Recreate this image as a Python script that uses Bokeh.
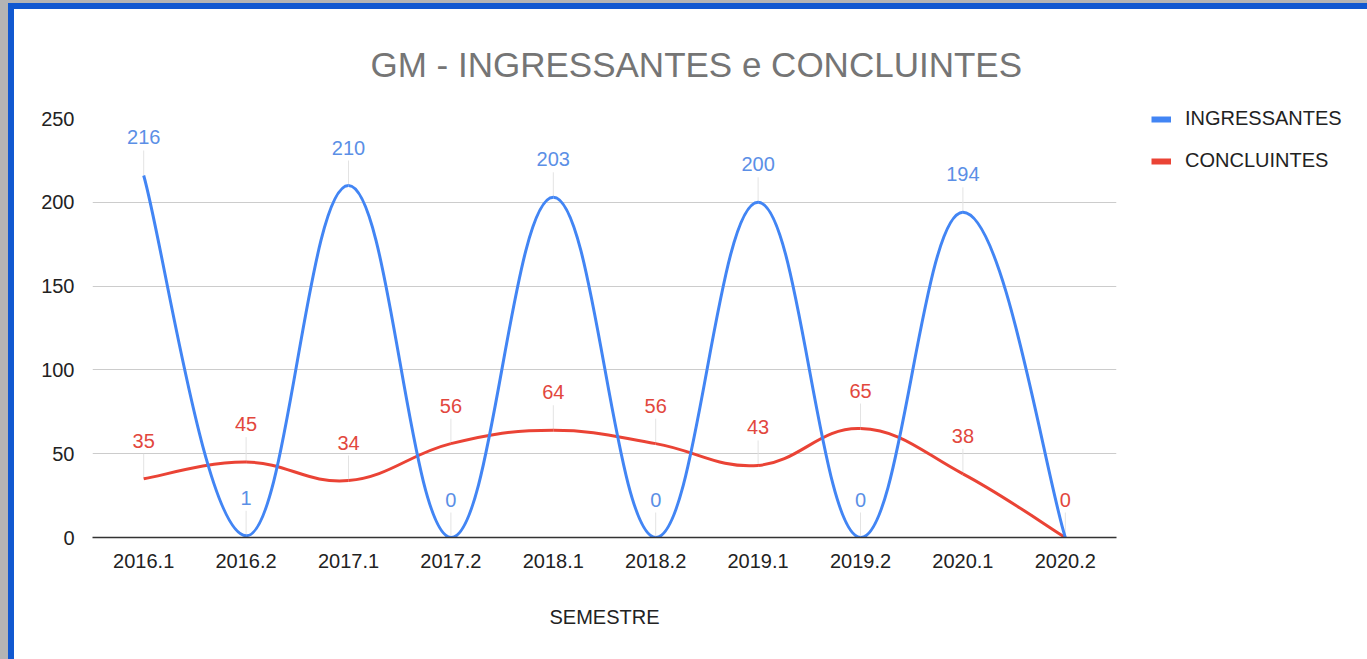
import numpy as np
from bokeh.plotting import figure
from bokeh.layouts import row
from bokeh.models import Range1d, FixedTicker, Legend, LegendItem, ColumnDataSource, Title
from bokeh.core.properties import value
from bokeh.embed import file_html
from bokeh.resources import INLINE

# ---- data ----
semesters = ["2016.1", "2016.2", "2017.1", "2017.2", "2018.1",
             "2018.2", "2019.1", "2019.2", "2020.1", "2020.2"]
ingressantes = [216, 1, 210, 0, 203, 0, 200, 0, 194, 0]
concluintes = [35, 45, 34, 56, 64, 56, 43, 65, 38, 0]
ingressantes_labels = ["216", "1", "210", "0", "203", "0", "200", "0", "194", ""]
concluintes_labels = ["35", "45", "34", "56", "64", "56", "43", "65", "38", "0"]
series_names = ["INGRESSANTES", "CONCLUINTES"]
y_ticks = [0, 50, 100, 150, 200, 250]
title_text = "GM - INGRESSANTES e CONCLUINTES"
x_title = "SEMESTRE"

FONT = "Liberation Sans"
BLUE = "#4285f4"
RED = "#ea4335"
BLUE_TXT = "#5b8fe6"
RED_TXT = "#e2473d"

W, H = 1126, 659
p = figure(width=W, height=H, output_backend="svg", toolbar_location=None,
           x_range=Range1d(0, len(semesters)), y_range=Range1d(0, 250),
           min_border_left=92, min_border_right=W - 1116, min_border_top=118,
           min_border_bottom=122, title=None)
p.outline_line_color = None
p.background_fill_color = None
p.border_fill_color = None

xs = np.arange(len(semesters)) + 0.5


def spline(xv, yv, t=0.2):
    n = len(xv)
    P = list(zip(xv, yv))
    d = dict(x0=[], y0=[], x1=[], y1=[], cx0=[], cy0=[], cx1=[], cy1=[])
    for i in range(n - 1):
        pm = P[i - 1] if i > 0 else P[i]
        p0 = P[i]
        p1 = P[i + 1]
        p2 = P[i + 2] if i + 2 < n else P[i + 1]
        d["x0"].append(p0[0]); d["y0"].append(p0[1])
        d["x1"].append(p1[0]); d["y1"].append(p1[1])
        d["cx0"].append(p0[0] + (p1[0] - pm[0]) * t)
        d["cy0"].append(p0[1] + (p1[1] - pm[1]) * t)
        d["cx1"].append(p1[0] - (p2[0] - p0[0]) * t)
        d["cy1"].append(p1[1] - (p2[1] - p0[1]) * t)
    return ColumnDataSource(d)


# grid / axes
p.ygrid.ticker = FixedTicker(ticks=y_ticks)
p.ygrid.grid_line_color = "#cccccc"
p.ygrid.grid_line_width = 1
p.xgrid.grid_line_color = None

p.yaxis.ticker = FixedTicker(ticks=y_ticks)
p.yaxis.axis_line_color = None
p.yaxis.major_tick_line_color = None
p.yaxis.minor_tick_line_color = None
p.yaxis.major_label_text_font = FONT
p.yaxis.major_label_text_font_size = "20px"
p.yaxis.major_label_text_color = "#222222"
p.yaxis.major_label_standoff = 12

p.xaxis.ticker = FixedTicker(ticks=list(xs))
p.xaxis.major_label_overrides = {float(x): s for x, s in zip(xs, semesters)}
p.xaxis.axis_line_color = "#333333"
p.xaxis.axis_line_width = 1.5
p.xaxis.major_tick_line_color = None
p.xaxis.minor_tick_line_color = None
p.xaxis.major_label_text_font = FONT
p.xaxis.major_label_text_font_size = "20px"
p.xaxis.major_label_text_color = "#222222"
p.xaxis.major_label_standoff = 10
p.xaxis.axis_label = x_title
p.xaxis.axis_label_text_font = FONT
p.xaxis.axis_label_text_font_size = "20px"
p.xaxis.axis_label_text_font_style = "normal"
p.xaxis.axis_label_text_color = "#222222"
p.xaxis.axis_label_standoff = 35

# leader lines
p.ray(x=xs, y=concluintes, length=25, angle=np.pi / 2, length_units="screen",
      line_color="#e3e3e3", line_width=1)
p.ray(x=xs[:-1], y=ingressantes[:-1], length=25, angle=np.pi / 2, length_units="screen",
      line_color="#e3e3e3", line_width=1)

# curves
p.bezier(x0="x0", y0="y0", x1="x1", y1="y1", cx0="cx0", cy0="cy0", cx1="cx1", cy1="cy1",
         source=spline(xs, concluintes), line_color=RED, line_width=3)
p.bezier(x0="x0", y0="y0", x1="x1", y1="y1", cx0="cx0", cy0="cy0", cx1="cx1", cy1="cy1",
         source=spline(xs, ingressantes), line_color=BLUE, line_width=3)

# data labels
p.text(x=xs, y=concluintes, text=concluintes_labels, y_offset=-38,
       text_align="center", text_baseline="middle", text_color=RED_TXT,
       text_font=value(FONT), text_font_size=value("20px"))
p.text(x=xs, y=ingressantes, text=ingressantes_labels, y_offset=-38,
       text_align="center", text_baseline="middle", text_color=BLUE_TXT,
       text_font=value(FONT), text_font_size=value("20px"))

# title
p.add_layout(Title(text=title_text, align="left", offset=278, standoff=69,
                   text_font=FONT, text_font_size="35px", text_font_style="normal",
                   text_color="#757575"), "above")

# legend panel (separate figure to the right)
W2 = 1367 - W
p2 = figure(width=W2, height=H, output_backend="svg", toolbar_location=None,
            x_range=Range1d(0, 1), y_range=Range1d(0, 1),
            min_border_left=1151 - W, min_border_top=107, min_border_right=0,
            min_border_bottom=0, title=None)
if "frame_align" in p2.properties():
    p2.frame_align = False
p2.axis.visible = False
p2.grid.grid_line_color = None
p2.outline_line_color = None
p2.background_fill_color = None
p2.border_fill_color = None
# legend keys: tiny off-range lines (outside the visible range of this panel)
lb = p2.line(x=[5, 6], y=[5, 6], line_color=BLUE, line_width=6)
lr = p2.line(x=[5, 6], y=[5, 6], line_color=RED, line_width=6)
legend = Legend(items=[LegendItem(label=series_names[0], renderers=[lb]),
                       LegendItem(label=series_names[1], renderers=[lr])],
                location="top_left", glyph_width=20, glyph_height=20,
                label_height=20, label_standoff=14, spacing=19, padding=0, margin=0,
                border_line_color=None, background_fill_alpha=0,
                label_text_font=FONT, label_text_font_size="20px",
                label_text_color="#222222")
p2.add_layout(legend, "center")

layout = row(p, p2, spacing=0, styles={
    "background":
        "linear-gradient(#b4b4b4, #b4b4b4) 0 0 / 8px 100% no-repeat, "
        "linear-gradient(to bottom, #b4b4b4 0 3px, #1158d0 3px 9px, transparent 9px), "
        "linear-gradient(to right, #b4b4b4 0 8px, #1158d0 8px 14px, #ffffff 14px)"
})
open("out.html", "w").write(file_html(layout, INLINE))
